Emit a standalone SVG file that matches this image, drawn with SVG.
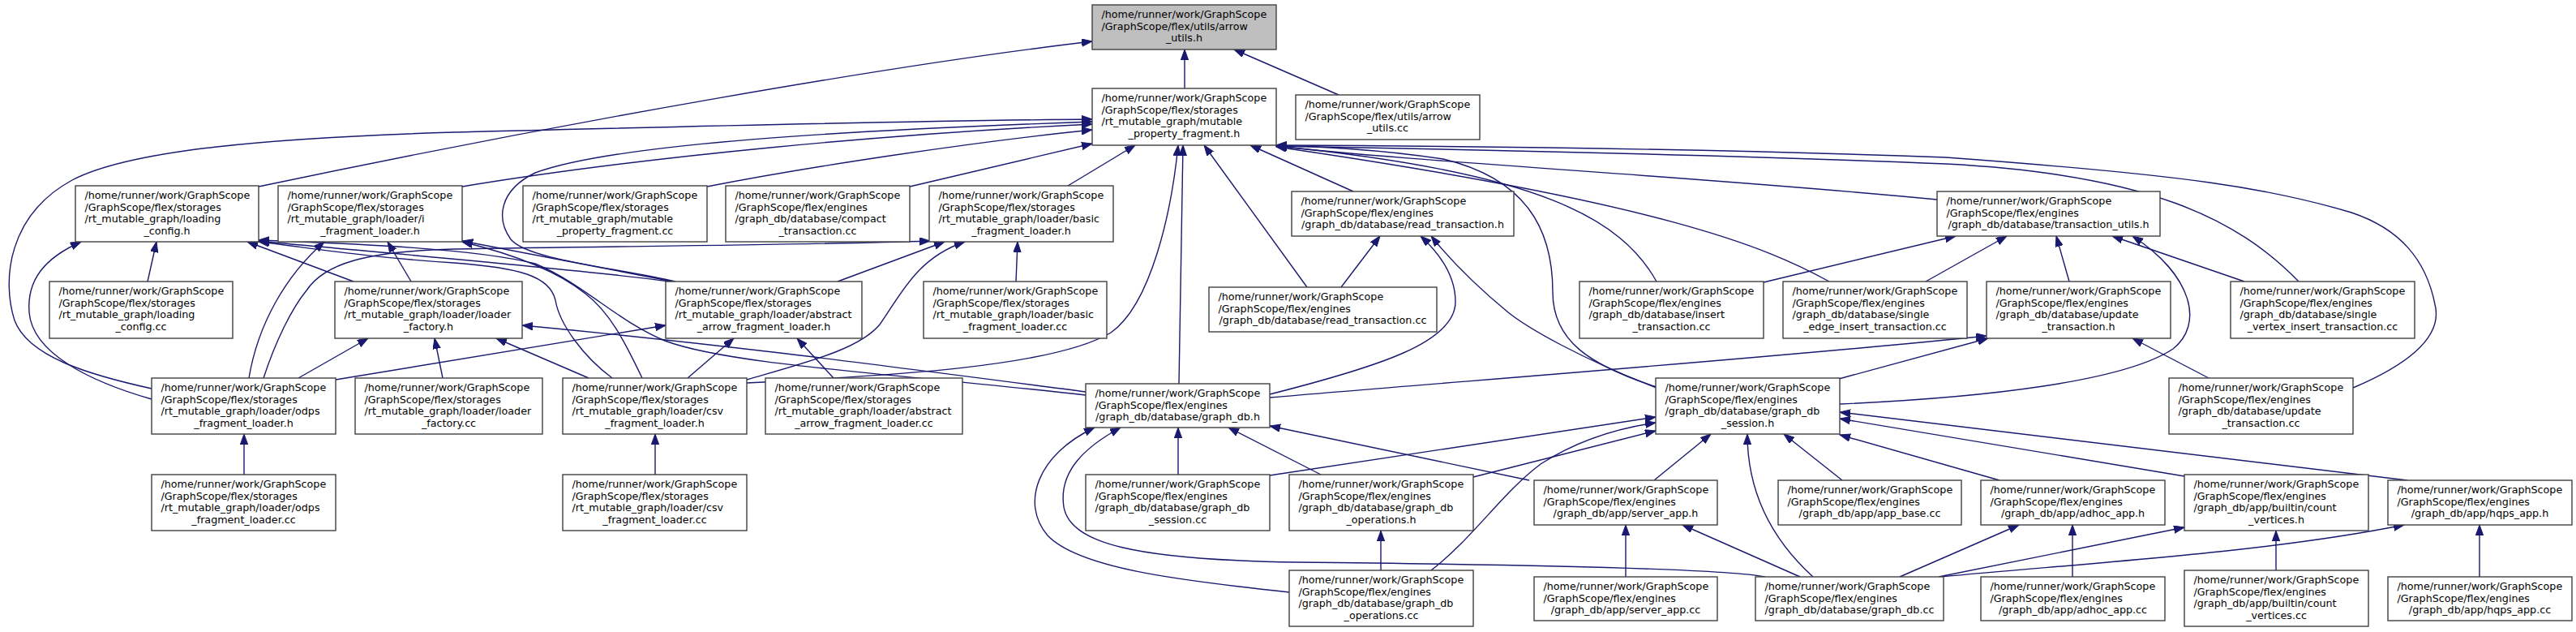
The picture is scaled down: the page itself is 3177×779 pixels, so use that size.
<svg xmlns="http://www.w3.org/2000/svg" width="3177" height="779" viewBox="0 0 3177 779">
<defs>
<marker id="ah" markerUnits="userSpaceOnUse" markerWidth="14" markerHeight="10" refX="13" refY="4.7" orient="auto"><path d="M0,0 L13,4.7 L0,9.4 z" fill="#191970" stroke="#191970" stroke-width="1"/></marker>
</defs>
<style>
.e path{fill:none;stroke:#191970;stroke-width:1.4;marker-end:url(#ah)}
.n rect{fill:#ffffff;stroke:#404040;stroke-width:1.4}
.root rect{fill:#bfbfbf}
text{font-family:"DejaVu Sans","Liberation Sans",sans-serif;font-size:12.7px;fill:#000}
.c{text-anchor:middle}
</style>
<rect x="0" y="0" width="3177" height="779" fill="#ffffff"/>
<g id="connectors" class="e">
<path d="M1461,109 L1461,61"/>
<path d="M1651,117 L1522,61"/>
<path d="M319,230 C700,150 1100,80 1347,51"/>
<path d="M187,479 C110,462 35,440 18,395 C2,345 10,265 89,222 C160,185 330,170 560,163 C800,157 1100,149 1347,147"/>
<path d="M187,492 C110,470 40,435 36,385 C33,345 55,318 100,298"/>
<path d="M307,466 C318,400 352,340 400,298"/>
<path d="M325,466 C340,420 360,380 378,358 C400,325 450,310 560,307 C800,303 1000,302 1147,297"/>
<path d="M368,466 L454,417"/>
<path d="M414,468 L821,401"/>
<path d="M301,585 L301,535"/>
<path d="M182,347 L193,298"/>
<path d="M436,347 L305,298"/>
<path d="M507,347 L478,298"/>
<path d="M546,466 L536,417"/>
<path d="M830,347 L570,297"/>
<path d="M826,347 C700,330 450,310 319,297"/>
<path d="M833,347 C760,330 650,320 630,295 C612,270 615,235 660,213 C750,180 1000,162 1347,150"/>
<path d="M755,466 C720,440 690,400 685,370 C678,340 640,330 560,324 C450,317 380,305 319,298"/>
<path d="M792,466 C770,420 752,385 722,362 C690,336 640,315 570,298"/>
<path d="M726,466 L612,417"/>
<path d="M848,466 L905,417"/>
<path d="M921,468 C1000,445 1060,430 1085,400 C1110,365 1130,318 1190,298"/>
<path d="M921,472 C1100,463 1300,452 1370,410 C1420,375 1445,260 1453,179"/>
<path d="M1033,347 L1165,298"/>
<path d="M1028,466 L983,417"/>
<path d="M808,585 L808,535"/>
<path d="M1253,347 L1255,298"/>
<path d="M570,230 C800,192 1100,165 1347,153"/>
<path d="M872,230 C1000,205 1200,175 1347,160"/>
<path d="M1122,230 L1347,177"/>
<path d="M1317,229 L1400,179"/>
<path d="M1454,473 L1459,179"/>
<path d="M1612,354 L1485,179"/>
<path d="M1669,236 L1542,179"/>
<path d="M2389,246 C2100,218 1750,200 1574,180"/>
<path d="M2043,347 C2000,270 1900,212 1574,180"/>
<path d="M2256,347 C2180,305 2050,250 1574,181"/>
<path d="M2835,347 C2760,270 2650,215 2400,202 C2100,190 1800,184 1574,180"/>
<path d="M2902,478 C2980,445 3012,410 3003,375 C2992,320 2960,282 2900,262 C2800,232 2700,216 2400,194 C2100,183 1800,180 1574,179"/>
<path d="M2043,477 C1960,450 1915,420 1915,360 C1915,280 1880,220 1780,196 C1700,184 1620,180 1574,180"/>
<path d="M2043,478 C1950,442 1885,405 1860,385 C1820,352 1790,322 1765,291"/>
<path d="M1566,486 C1700,452 1795,422 1795,372 C1795,340 1775,312 1752,291"/>
<path d="M1654,354 L1702,291"/>
<path d="M2175,348 L2412,291"/>
<path d="M2375,347 L2475,291"/>
<path d="M2552,347 L2536,291"/>
<path d="M2768,347 L2605,291"/>
<path d="M2269,498 C2450,490 2620,470 2680,430 C2718,400 2705,340 2630,291"/>
<path d="M1566,490 C1800,470 2200,440 2450,414"/>
<path d="M2268,467 L2452,417"/>
<path d="M2724,466 L2630,417"/>
<path d="M1339,483 C1100,452 900,425 644,401"/>
<path d="M1339,487 C1100,460 900,450 820,420 C760,395 720,350 660,325 C580,305 420,300 319,296"/>
<path d="M1453,585 L1453,527"/>
<path d="M1566,586 L2042,514"/>
<path d="M1629,585 L1515,527"/>
<path d="M1817,588 L2042,531"/>
<path d="M1703,703 L1703,654"/>
<path d="M1590,730 C1450,715 1330,700 1292,660 C1258,620 1280,560 1350,527"/>
<path d="M1765,703 C1820,660 1850,610 1900,572 C1950,540 2000,527 2042,521"/>
<path d="M1886,592 L1566,525"/>
<path d="M2040,592 L2110,535"/>
<path d="M2005,711 L2005,647"/>
<path d="M2177,711 C2120,700 1800,695 1600,693 C1400,690 1320,670 1312,625 C1305,580 1340,550 1382,527"/>
<path d="M2236,711 C2180,660 2155,600 2155,535"/>
<path d="M2220,711 L2075,647"/>
<path d="M2343,711 L2490,647"/>
<path d="M2391,711 L2694,650"/>
<path d="M2393,711 C2600,692 2800,680 2965,647"/>
<path d="M2272,592 L2200,535"/>
<path d="M2466,592 L2269,536"/>
<path d="M2694,587 L2269,516"/>
<path d="M2969,592 L2269,508"/>
<path d="M2556,711 L2556,647"/>
<path d="M2807,703 L2807,654"/>
<path d="M3058,711 L3058,647"/>
</g>
<g id="n0" class="n root"><rect x="1347" y="6" width="227" height="55"/><text x="1358.5" y="22">/home/runner/work/GraphScope</text><text x="1358.5" y="36.7">/GraphScope/flex/utils/arrow</text><text class="c" x="1460.5" y="51.4">_utils.h</text></g>
<g id="n1" class="n"><rect x="1347" y="109" width="227" height="70"/><text x="1358.5" y="125">/home/runner/work/GraphScope</text><text x="1358.5" y="139.7">/GraphScope/flex/storages</text><text x="1358.5" y="154.4">/rt_mutable_graph/mutable</text><text class="c" x="1460.5" y="169.1">_property_fragment.h</text></g>
<g id="n2" class="n"><rect x="1598" y="117" width="227" height="55"/><text x="1609.5" y="133">/home/runner/work/GraphScope</text><text x="1609.5" y="147.7">/GraphScope/flex/utils/arrow</text><text class="c" x="1711.5" y="162.4">_utils.cc</text></g>
<g id="n3" class="n"><rect x="93" y="229" width="226" height="69"/><text x="104.5" y="245">/home/runner/work/GraphScope</text><text x="104.5" y="259.7">/GraphScope/flex/storages</text><text x="104.5" y="274.4">/rt_mutable_graph/loading</text><text class="c" x="206" y="289.1">_config.h</text></g>
<g id="n4" class="n"><rect x="343" y="229" width="227" height="69"/><text x="354.5" y="245">/home/runner/work/GraphScope</text><text x="354.5" y="259.7">/GraphScope/flex/storages</text><text x="354.5" y="274.4">/rt_mutable_graph/loader/i</text><text class="c" x="456.5" y="289.1">_fragment_loader.h</text></g>
<g id="n5" class="n"><rect x="645" y="229" width="227" height="69"/><text x="656.5" y="245">/home/runner/work/GraphScope</text><text x="656.5" y="259.7">/GraphScope/flex/storages</text><text x="656.5" y="274.4">/rt_mutable_graph/mutable</text><text class="c" x="758.5" y="289.1">_property_fragment.cc</text></g>
<g id="n6" class="n"><rect x="895" y="229" width="227" height="69"/><text x="906.5" y="245">/home/runner/work/GraphScope</text><text x="906.5" y="259.7">/GraphScope/flex/engines</text><text x="906.5" y="274.4">/graph_db/database/compact</text><text class="c" x="1008.5" y="289.1">_transaction.cc</text></g>
<g id="n7" class="n"><rect x="1146" y="229" width="227" height="69"/><text x="1157.5" y="245">/home/runner/work/GraphScope</text><text x="1157.5" y="259.7">/GraphScope/flex/storages</text><text x="1157.5" y="274.4">/rt_mutable_graph/loader/basic</text><text class="c" x="1259.5" y="289.1">_fragment_loader.h</text></g>
<g id="n8" class="n"><rect x="1593" y="236" width="274" height="55"/><text x="1604.5" y="252">/home/runner/work/GraphScope</text><text x="1604.5" y="266.7">/GraphScope/flex/engines</text><text class="c" x="1730" y="281.4">/graph_db/database/read_transaction.h</text></g>
<g id="n9" class="n"><rect x="2389" y="236" width="275" height="55"/><text x="2400.5" y="252">/home/runner/work/GraphScope</text><text x="2400.5" y="266.7">/GraphScope/flex/engines</text><text class="c" x="2526.5" y="281.4">/graph_db/database/transaction_utils.h</text></g>
<g id="n10" class="n"><rect x="61" y="347" width="226" height="70"/><text x="72.5" y="363">/home/runner/work/GraphScope</text><text x="72.5" y="377.7">/GraphScope/flex/storages</text><text x="72.5" y="392.4">/rt_mutable_graph/loading</text><text class="c" x="174" y="407.1">_config.cc</text></g>
<g id="n11" class="n"><rect x="413" y="347" width="231" height="70"/><text x="424.5" y="363">/home/runner/work/GraphScope</text><text x="424.5" y="377.7">/GraphScope/flex/storages</text><text x="424.5" y="392.4">/rt_mutable_graph/loader/loader</text><text class="c" x="528.5" y="407.1">_factory.h</text></g>
<g id="n12" class="n"><rect x="821" y="347" width="242" height="70"/><text x="832.5" y="363">/home/runner/work/GraphScope</text><text x="832.5" y="377.7">/GraphScope/flex/storages</text><text x="832.5" y="392.4">/rt_mutable_graph/loader/abstract</text><text class="c" x="942" y="407.1">_arrow_fragment_loader.h</text></g>
<g id="n13" class="n"><rect x="1139" y="347" width="226" height="70"/><text x="1150.5" y="363">/home/runner/work/GraphScope</text><text x="1150.5" y="377.7">/GraphScope/flex/storages</text><text x="1150.5" y="392.4">/rt_mutable_graph/loader/basic</text><text class="c" x="1252" y="407.1">_fragment_loader.cc</text></g>
<g id="n14" class="n"><rect x="1491" y="354" width="281" height="55"/><text x="1502.5" y="370">/home/runner/work/GraphScope</text><text x="1502.5" y="384.7">/GraphScope/flex/engines</text><text class="c" x="1631.5" y="399.4">/graph_db/database/read_transaction.cc</text></g>
<g id="n15" class="n"><rect x="1948" y="347" width="227" height="70"/><text x="1959.5" y="363">/home/runner/work/GraphScope</text><text x="1959.5" y="377.7">/GraphScope/flex/engines</text><text x="1959.5" y="392.4">/graph_db/database/insert</text><text class="c" x="2061.5" y="407.1">_transaction.cc</text></g>
<g id="n16" class="n"><rect x="2199" y="347" width="227" height="70"/><text x="2210.5" y="363">/home/runner/work/GraphScope</text><text x="2210.5" y="377.7">/GraphScope/flex/engines</text><text x="2210.5" y="392.4">/graph_db/database/single</text><text class="c" x="2312.5" y="407.1">_edge_insert_transaction.cc</text></g>
<g id="n17" class="n"><rect x="2450" y="347" width="227" height="70"/><text x="2461.5" y="363">/home/runner/work/GraphScope</text><text x="2461.5" y="377.7">/GraphScope/flex/engines</text><text x="2461.5" y="392.4">/graph_db/database/update</text><text class="c" x="2563.5" y="407.1">_transaction.h</text></g>
<g id="n18" class="n"><rect x="2751" y="347" width="227" height="70"/><text x="2762.5" y="363">/home/runner/work/GraphScope</text><text x="2762.5" y="377.7">/GraphScope/flex/engines</text><text x="2762.5" y="392.4">/graph_db/database/single</text><text class="c" x="2864.5" y="407.1">_vertex_insert_transaction.cc</text></g>
<g id="n19" class="n"><rect x="187" y="466" width="227" height="69"/><text x="198.5" y="482">/home/runner/work/GraphScope</text><text x="198.5" y="496.7">/GraphScope/flex/storages</text><text x="198.5" y="511.4">/rt_mutable_graph/loader/odps</text><text class="c" x="300.5" y="526.1">_fragment_loader.h</text></g>
<g id="n20" class="n"><rect x="438" y="466" width="231" height="69"/><text x="449.5" y="482">/home/runner/work/GraphScope</text><text x="449.5" y="496.7">/GraphScope/flex/storages</text><text x="449.5" y="511.4">/rt_mutable_graph/loader/loader</text><text class="c" x="553.5" y="526.1">_factory.cc</text></g>
<g id="n21" class="n"><rect x="694" y="466" width="227" height="69"/><text x="705.5" y="482">/home/runner/work/GraphScope</text><text x="705.5" y="496.7">/GraphScope/flex/storages</text><text x="705.5" y="511.4">/rt_mutable_graph/loader/csv</text><text class="c" x="807.5" y="526.1">_fragment_loader.h</text></g>
<g id="n22" class="n"><rect x="944" y="466" width="243" height="69"/><text x="955.5" y="482">/home/runner/work/GraphScope</text><text x="955.5" y="496.7">/GraphScope/flex/storages</text><text x="955.5" y="511.4">/rt_mutable_graph/loader/abstract</text><text class="c" x="1065.5" y="526.1">_arrow_fragment_loader.cc</text></g>
<g id="n23" class="n"><rect x="1339" y="473" width="227" height="54"/><text x="1350.5" y="489">/home/runner/work/GraphScope</text><text x="1350.5" y="503.7">/GraphScope/flex/engines</text><text class="c" x="1452.5" y="518.4">/graph_db/database/graph_db.h</text></g>
<g id="n24" class="n"><rect x="2042" y="466" width="227" height="69"/><text x="2053.5" y="482">/home/runner/work/GraphScope</text><text x="2053.5" y="496.7">/GraphScope/flex/engines</text><text x="2053.5" y="511.4">/graph_db/database/graph_db</text><text class="c" x="2155.5" y="526.1">_session.h</text></g>
<g id="n25" class="n"><rect x="2675" y="466" width="227" height="69"/><text x="2686.5" y="482">/home/runner/work/GraphScope</text><text x="2686.5" y="496.7">/GraphScope/flex/engines</text><text x="2686.5" y="511.4">/graph_db/database/update</text><text class="c" x="2788.5" y="526.1">_transaction.cc</text></g>
<g id="n26" class="n"><rect x="187" y="585" width="227" height="69"/><text x="198.5" y="601">/home/runner/work/GraphScope</text><text x="198.5" y="615.7">/GraphScope/flex/storages</text><text x="198.5" y="630.4">/rt_mutable_graph/loader/odps</text><text class="c" x="300.5" y="645.1">_fragment_loader.cc</text></g>
<g id="n27" class="n"><rect x="694" y="585" width="227" height="69"/><text x="705.5" y="601">/home/runner/work/GraphScope</text><text x="705.5" y="615.7">/GraphScope/flex/storages</text><text x="705.5" y="630.4">/rt_mutable_graph/loader/csv</text><text class="c" x="807.5" y="645.1">_fragment_loader.cc</text></g>
<g id="n28" class="n"><rect x="1339" y="585" width="227" height="69"/><text x="1350.5" y="601">/home/runner/work/GraphScope</text><text x="1350.5" y="615.7">/GraphScope/flex/engines</text><text x="1350.5" y="630.4">/graph_db/database/graph_db</text><text class="c" x="1452.5" y="645.1">_session.cc</text></g>
<g id="n29" class="n"><rect x="1590" y="585" width="227" height="69"/><text x="1601.5" y="601">/home/runner/work/GraphScope</text><text x="1601.5" y="615.7">/GraphScope/flex/engines</text><text x="1601.5" y="630.4">/graph_db/database/graph_db</text><text class="c" x="1703.5" y="645.1">_operations.h</text></g>
<g id="n30" class="n"><rect x="1892" y="592" width="226" height="55"/><text x="1903.5" y="608">/home/runner/work/GraphScope</text><text x="1903.5" y="622.7">/GraphScope/flex/engines</text><text class="c" x="2005" y="637.4">/graph_db/app/server_app.h</text></g>
<g id="n31" class="n"><rect x="2193" y="592" width="226" height="55"/><text x="2204.5" y="608">/home/runner/work/GraphScope</text><text x="2204.5" y="622.7">/GraphScope/flex/engines</text><text class="c" x="2306" y="637.4">/graph_db/app/app_base.cc</text></g>
<g id="n32" class="n"><rect x="2443" y="592" width="227" height="55"/><text x="2454.5" y="608">/home/runner/work/GraphScope</text><text x="2454.5" y="622.7">/GraphScope/flex/engines</text><text class="c" x="2556.5" y="637.4">/graph_db/app/adhoc_app.h</text></g>
<g id="n33" class="n"><rect x="2694" y="585" width="227" height="69"/><text x="2705.5" y="601">/home/runner/work/GraphScope</text><text x="2705.5" y="615.7">/GraphScope/flex/engines</text><text x="2705.5" y="630.4">/graph_db/app/builtin/count</text><text class="c" x="2807.5" y="645.1">_vertices.h</text></g>
<g id="n34" class="n"><rect x="2945" y="592" width="227" height="55"/><text x="2956.5" y="608">/home/runner/work/GraphScope</text><text x="2956.5" y="622.7">/GraphScope/flex/engines</text><text class="c" x="3058.5" y="637.4">/graph_db/app/hqps_app.h</text></g>
<g id="n35" class="n"><rect x="1590" y="703" width="227" height="69"/><text x="1601.5" y="719">/home/runner/work/GraphScope</text><text x="1601.5" y="733.7">/GraphScope/flex/engines</text><text x="1601.5" y="748.4">/graph_db/database/graph_db</text><text class="c" x="1703.5" y="763.1">_operations.cc</text></g>
<g id="n36" class="n"><rect x="1892" y="711" width="226" height="54"/><text x="1903.5" y="727">/home/runner/work/GraphScope</text><text x="1903.5" y="741.7">/GraphScope/flex/engines</text><text class="c" x="2005" y="756.4">/graph_db/app/server_app.cc</text></g>
<g id="n37" class="n"><rect x="2165" y="711" width="232" height="54"/><text x="2176.5" y="727">/home/runner/work/GraphScope</text><text x="2176.5" y="741.7">/GraphScope/flex/engines</text><text class="c" x="2281" y="756.4">/graph_db/database/graph_db.cc</text></g>
<g id="n38" class="n"><rect x="2443" y="711" width="227" height="54"/><text x="2454.5" y="727">/home/runner/work/GraphScope</text><text x="2454.5" y="741.7">/GraphScope/flex/engines</text><text class="c" x="2556.5" y="756.4">/graph_db/app/adhoc_app.cc</text></g>
<g id="n39" class="n"><rect x="2694" y="703" width="227" height="69"/><text x="2705.5" y="719">/home/runner/work/GraphScope</text><text x="2705.5" y="733.7">/GraphScope/flex/engines</text><text x="2705.5" y="748.4">/graph_db/app/builtin/count</text><text class="c" x="2807.5" y="763.1">_vertices.cc</text></g>
<g id="n40" class="n"><rect x="2945" y="711" width="227" height="54"/><text x="2956.5" y="727">/home/runner/work/GraphScope</text><text x="2956.5" y="741.7">/GraphScope/flex/engines</text><text class="c" x="3058.5" y="756.4">/graph_db/app/hqps_app.cc</text></g>
</svg>
